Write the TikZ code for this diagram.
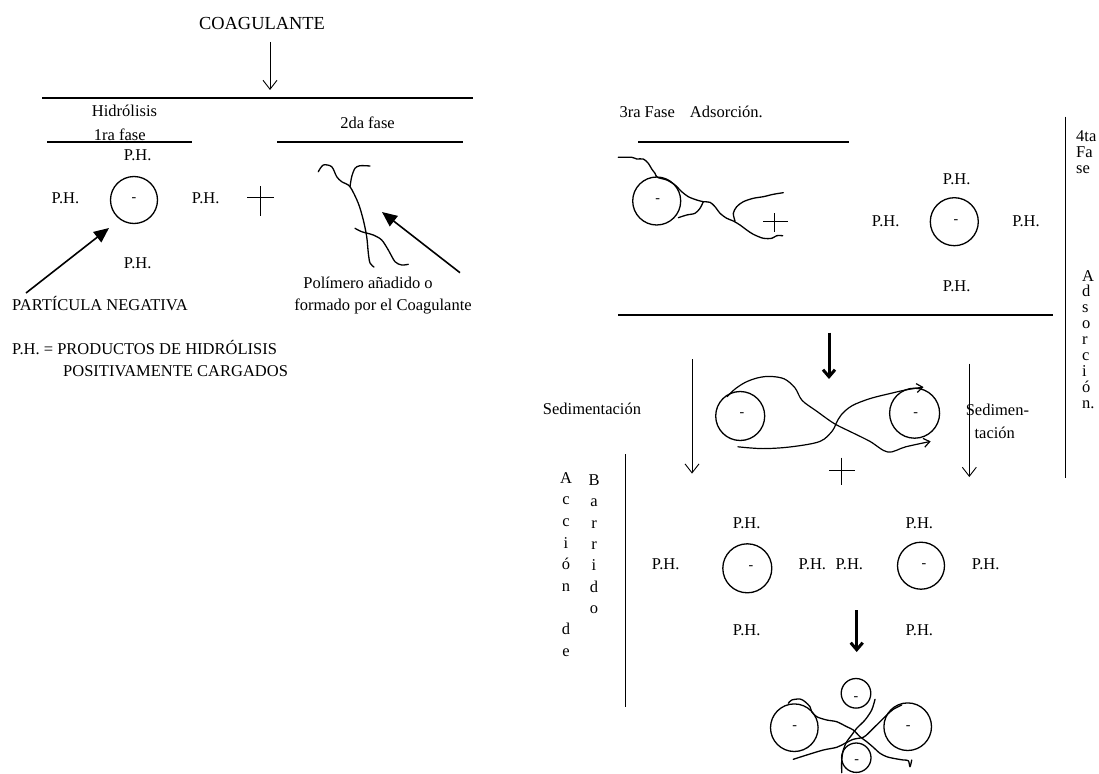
\documentclass[tikz,border=0pt]{standalone}
\usepackage{fontspec}
\setmainfont{Liberation Serif}
\usetikzlibrary{arrows.meta}
\tikzset{
  txt/.style={inner sep=0pt, anchor=base, font=\fontsize{16.5}{19}\selectfont},
  big/.style={inner sep=0pt, anchor=base, font=\fontsize{18.4}{22}\selectfont},
  particle/.style={circle, draw, line width=1.3pt, inner sep=0pt, minimum size=#1},
  minus/.style={inner sep=0pt, yshift=-2pt, font=\fontsize{14}{16}\selectfont},
  thinarrow/.style={line width=0.9pt, -{Straight Barb[length=9pt,width=14pt]}},
  boldarrow/.style={line width=3pt, -{Straight Barb[length=7pt,width=12pt]}},
  filledarrow/.style={line width=1.6pt, -{Triangle[length=15pt,width=13pt]}},
  curvearrow/.style={line width=1.2pt, -{Straight Barb[length=6pt,width=9pt]}},
  rulebar/.style={line width=1.9pt},
  sepbar/.style={line width=0.8pt},
  strand/.style={line width=1.3pt, line join=round, line cap=round},
  plusmark/.style={line width=0.9pt}
}
\begin{document}
\begin{tikzpicture}[x=1pt,y=-1pt]
\useasboundingbox[fill=white] (0,0) rectangle (1099,773);

% ---------- top left ----------
\node[big] (coag) at (262,29.3) {COAGULANTE};
\coordinate (coagA) at (270,42);
\coordinate (coagB) at (270,90);
\draw[thinarrow] (coagA) -- (coagB);
\coordinate (topL) at (42,97.7);
\coordinate (topR) at (473,97.7);
\draw[rulebar] (topL) -- (topR);

\node[txt] (hidro) at (124.5,116.7) {Hidrólisis};
\node[txt] (fase1) at (119.7,140) {1ra fase};
\coordinate (f1L) at (47,141.7);
\coordinate (f1R) at (192,141.7);
\draw[rulebar] (f1L) -- (f1R);
\node[txt] (fase2) at (367.5,128.3) {2da fase};
\coordinate (f2L) at (277,141.7);
\coordinate (f2R) at (463,141.7);
\draw[rulebar] (f2L) -- (f2R);

\node[particle=47pt] (p1) at (134,200) {};
\node[minus] (p1m) at (134,198) {-};
\node[txt] (p1t) at (137.7,160.7) {P.H.};
\node[txt] (p1l) at (65.5,203.3) {P.H.};
\node[txt] (p1r) at (205.7,203.3) {P.H.};
\node[txt] (p1b) at (137.7,268.3) {P.H.};
\draw[plusmark] (247,197.7) -- (274,197.7) (260,186) -- (260,216);

\node[txt, anchor=base west] (partneg) at (12,310) {PARTÍCULA NEGATIVA};
\coordinate (pnA) at (26,293);
\coordinate (pnB) at (109,228);
\draw[filledarrow] (pnA) -- (pnB);

% polymer
\draw[strand] plot[smooth, tension=0.5] coordinates {(318.3,171.7) (323.3,165) (331.7,166.7) (336.7,176.7) (341.7,181.7) (350,186.7) (358.3,203.3) (363.3,220) (366.7,236.7) (368.3,253) (370,263) (374,267)};
\draw[strand] plot[smooth, tension=0.5] coordinates {(350,186.7) (351.7,176.7) (355,168.3) (360,165.7) (370,166)};
\draw[strand] plot[smooth, tension=0.5] coordinates {(355,228.3) (361.7,231.7) (373.3,235) (381.7,240) (388.3,250) (395,261.7) (401.7,265) (408.3,264.3)};
\coordinate (polA) at (460,272.7);
\coordinate (polB) at (382,212);
\draw[filledarrow] (polA) -- (polB);
\node[txt] (pol1) at (368,288.3) {Polímero añadido o};
\node[txt] (pol2) at (383,310) {formado por el Coagulante};

\node[txt, anchor=base west] (leg1) at (12,354) {P.H. = PRODUCTOS DE HIDRÓLISIS};
\node[txt, anchor=base west] (leg2) at (63,376) {POSITIVAMENTE CARGADOS};

% ---------- 3ra fase ----------
\node[txt, anchor=base west] (fase3) at (619.3,117.3) {3ra Fase\hspace{15pt}Adsorción.};
\coordinate (f3L) at (638.3,141.7);
\coordinate (f3R) at (849.3,141.7);
\draw[rulebar] (f3L) -- (f3R);

\node[particle=48pt] (p3) at (656.7,201) {};
\node[minus] (p3m) at (657.7,199) {-};
\draw[strand] plot[smooth, tension=0.5] coordinates {(618.3,157.3) (631.7,157.3) (636.7,159) (643.3,159) (648.3,163.3) (651.7,169) (655,173.3) (657.3,177.3) (666.7,180) (675,185) (681.7,191.7) (688.3,196.7) (696.7,200) (703.3,201.7) (710,202.3) (715,206.7) (720,213.3) (726.7,218.3) (733.3,221) (740,225) (746.7,230) (753.3,234.3) (763.3,238.3) (771.7,238.3) (776.7,235.7) (782.7,235.7)};
\draw[strand] plot[smooth, tension=0.5] coordinates {(703.3,201.7) (700,208.3) (695,213.3) (686.7,215) (678.3,217.7)};
\draw[strand] plot[smooth, tension=0.5] coordinates {(735,221) (733.3,213.3) (736.7,206.7) (743.3,201.7) (753.3,198.3) (763.3,196.7) (773.3,194.3) (783.3,192.7)};
\draw[plusmark] (763.3,221) -- (788.3,221) (774,213) -- (774,232.3);

\node[particle=48pt] (p4) at (954.3,221.7) {};
\node[minus] (p4m) at (956,220) {-};
\node[txt] (p4t) at (956.7,184) {P.H.};
\node[txt] (p4l) at (885.7,226) {P.H.};
\node[txt] (p4r) at (1026,226) {P.H.};
\node[txt] (p4b) at (956.7,291.7) {P.H.};

\coordinate (midL) at (618.3,315);
\coordinate (midR) at (1053.3,315);
\draw[rulebar] (midL) -- (midR);

\coordinate (vrT) at (1065,116.7);
\coordinate (vrB) at (1065,478);
\draw[sepbar] (vrT) -- (vrB);
\node[txt, anchor=base west] (c4a) at (1076,141.7) {4ta};
\node[txt, anchor=base west] (c4b) at (1076,157.5) {Fa};
\node[txt, anchor=base west] (c4c) at (1076,173.3) {se};
\foreach \ch [count=\k] in {A,d,s,o,r,c,i,ó,n.}
  \node[txt, anchor=base west] (ads\k) at (1082,{281+15.9*(\k-1)}) {\ch};

% ---------- middle ----------
\coordinate (b1A) at (829,332.5);
\coordinate (b1B) at (829,379);
\draw[boldarrow] (b1A) -- (b1B);
\coordinate (sLA) at (692,359.3);
\coordinate (sLB) at (692,473.6);
\draw[thinarrow] (sLA) -- (sLB);
\coordinate (sRA) at (969.3,363.6);
\coordinate (sRB) at (969.3,477);
\draw[thinarrow] (sRA) -- (sRB);
\node[txt] (sedL) at (592,414.6) {Sedimentación};
\node[txt] (sedR1) at (997.4,415.7) {Sedimen-};
\node[txt] (sedR2) at (994.8,438.6) {tación};

\node[particle=49pt] (m1) at (740.2,416) {};
\node[minus] (m1m) at (742,413) {-};
\node[particle=50pt] (m2) at (914.6,413.2) {};
\node[minus] (m2m) at (915.7,413) {-};
\draw[strand, curvearrow] plot[smooth, tension=0.55] coordinates {(727.1,396.8) (734.3,389.6) (745,382.5) (757.5,377.9) (770,376.4) (784.3,378.9) (795,387.9) (802.1,400.4) (816.4,411) (834.3,423.6) (852.1,432.5) (870,441.4) (887.9,452.1) (905.7,446.8) (930.7,441.4)};
\draw[strand, curvearrow] plot[smooth, tension=0.55] coordinates {(737.9,446.8) (762.9,448.6) (791.4,446.8) (820,441.4) (832.5,430.7) (836,423.6) (841.4,414.6) (852.1,405.7) (870,398.6) (891.4,393.2) (907.5,389.6) (923.6,387.1)};
\draw[plusmark] (829,470) -- (854.6,470) (841.4,457.5) -- (841.4,485);

% Accion de Barrido
\coordinate (vlT) at (625.7,454);
\coordinate (vlB) at (625.7,707.3);
\draw[sepbar] (vlT) -- (vlB);
\foreach \ch [count=\k] in {A,c,c,i,ó,n,{},d,e}
  \node[txt] (acc\k) at (566,{483.3+21.6*(\k-1)}) {\ch};
\foreach \ch [count=\k] in {B,a,r,r,i,d,o}
  \node[txt] (bar\k) at (594,{485.5+21.3*(\k-1)}) {\ch};

% two particles with P.H.
\node[particle=49pt] (q1) at (747.3,568.3) {};
\node[minus] (q1m) at (751,565.3) {-};
\node[txt] (q1t) at (746.7,528.3) {P.H.};
\node[txt] (q1l) at (665.7,569.3) {P.H.};
\node[txt] (q1r) at (812.3,569.3) {P.H.};
\node[txt] (q1b) at (746.7,635.7) {P.H.};
\node[particle=47pt] (q2) at (921,565.7) {};
\node[minus] (q2m) at (924,563.7) {-};
\node[txt] (q2t) at (919.3,528.3) {P.H.};
\node[txt] (q2l) at (849.3,569.3) {P.H.};
\node[txt] (q2r) at (985.7,569.3) {P.H.};
\node[txt] (q2b) at (919.3,635.7) {P.H.};

\coordinate (b2A) at (856.7,610);
\coordinate (b2B) at (856.7,652);
\draw[boldarrow] (b2A) -- (b2B);

% final floc
\node[particle=29.6pt] (f1) at (856,693.3) {};
\node[minus] (f1m) at (856,697) {-};
\node[particle=47.6pt] (f2) at (794.3,727.7) {};
\node[minus] (f2m) at (794.7,726) {-};
\node[particle=47.6pt] (f3) at (907.7,726.7) {};
\node[minus] (f3m) at (908.3,726) {-};
\node[particle=29.4pt] (f4) at (856.3,757.7) {};
\node[minus] (f4m) at (856.7,760) {-};
\draw[strand] plot[smooth, tension=0.5] coordinates {(788.3,703.3) (791.7,700) (800,699) (805,701.7) (810,706.7) (811.7,711.7) (816.7,716.7) (826.7,720) (836.7,721.7) (846.7,726.7) (853.3,730) (860,736.7) (866.7,741.7) (873.3,747.3) (880,753.3) (886.7,756.7) (893.3,758.3) (903.3,760) (908.3,760.7) (910,766.7) (911.7,760)};
\draw[strand] plot[smooth, tension=0.5] coordinates {(875,699.3) (871.7,710) (865,720) (856.7,728.3) (851.7,735) (846.7,741.7) (843.3,750) (841.7,760) (841.7,772.7)};
\draw[strand] plot[smooth, tension=0.5] coordinates {(793.3,759.3) (806.7,755) (823.3,750) (836.7,747.3) (845,743.3) (853.3,739.3) (863.3,737.3) (868.3,733.3) (873.3,728.3) (880,721.7) (886.7,715) (893.3,709.3) (901.7,705)};
\end{tikzpicture}
\end{document}
